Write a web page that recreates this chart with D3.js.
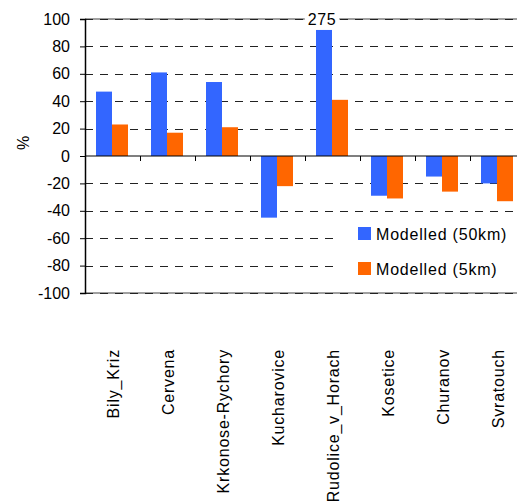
<!DOCTYPE html>
<html>
<head>
<meta charset="utf-8">
<script src="https://cdn.jsdelivr.net/npm/d3@7/dist/d3.min.js"></script>
<style>
  html, body { margin: 0; padding: 0; background: #fff; }
  svg { display: block; font-family: Arial, "Liberation Sans", sans-serif; }
</style>
</head>
<body>
<svg id="chart" width="517" height="502"></svg>
<script>
// Stations along the x axis
const stations = ["Bily_Kriz", "Cervena", "Krkonose-Rychory", "Kucharovice",
                  "Rudolice_v_Horach", "Kosetice", "Churanov", "Svratouch"];
// Series names
const seriesNames = ["Modelled (50km)", "Modelled (5km)"];
// Relative difference (%) per station
const modelled50km = [47, 61, 54, -45, 275, -29, -15, -20];
const modelled5km  = [23, 17, 21, -22, 41, -31, -26, -33];
// Y axis ticks
const yTicks = [-100, -80, -60, -40, -20, 0, 20, 40, 60, 80, 100];

const colors = ["#3366FF", "#FF6600"];
// Off-scale bars are cut short below the top of the axis and labelled with their value
const breakValue = 92;

const svg = d3.select("#chart");
const plotLeft = 85, plotTop = 19, plotBottom = 293, band = 55;

const x = d3.scaleBand().domain(stations).range([plotLeft, plotLeft + band * stations.length]);
const xs = d3.scaleBand().domain(seriesNames).range([0, 32]);
const barOffset = (band - 32) / 2 - 0.5;
const y = d3.scaleLinear().domain([-100, 100]).range([plotBottom, plotTop]);

// Plot area border (top / bottom)
svg.append("line").attr("x1", plotLeft).attr("x2", 517).attr("y1", y(100)).attr("y2", y(100))
  .attr("stroke", "#808080").attr("stroke-width", 1.5);
svg.append("line").attr("x1", plotLeft).attr("x2", 517).attr("y1", y(-100)).attr("y2", y(-100))
  .attr("stroke", "#808080").attr("stroke-width", 1.5);

// Dashed gridlines
svg.append("g").selectAll("line")
  .data(yTicks.filter(d => d !== 0))
  .join("line")
  .attr("x1", plotLeft).attr("x2", 517)
  .attr("y1", d => Math.round(y(d)) + 0.5).attr("y2", d => Math.round(y(d)) + 0.5)
  .attr("stroke", "#222").attr("stroke-width", 1)
  .attr("stroke-dasharray", "8,7");

// Bars
const series = [modelled50km, modelled5km];
series.forEach((vals, si) => {
  svg.append("g").selectAll("rect")
    .data(stations.map((s, i) => ({ s, v: vals[i] })))
    .join("rect")
    .attr("x", d => x(d.s) + barOffset + xs(seriesNames[si]))
    .attr("width", xs.bandwidth())
    .attr("y", d => y(Math.max(0, Math.min(d.v, breakValue))))
    .attr("height", d => Math.abs(y(Math.min(d.v, breakValue)) - y(0)))
    .attr("fill", colors[si]);
});

// Value label for off-scale bar
stations.forEach((s, i) => {
  const v = modelled50km[i];
  if (v > 100) {
    const cx = x(s) + barOffset + xs(seriesNames[0]) + xs.bandwidth() / 2 - 2;
    const g = svg.append("g");
    const t = g.append("text").attr("x", cx).attr("y", y(100) + 6)
      .attr("text-anchor", "middle").attr("font-size", 16).attr("fill", "#000")
      .attr("letter-spacing", "0.6px")
      .text(v);
    const bb = t.node().getBBox();
    g.insert("rect", "text").attr("x", bb.x - 3).attr("y", y(100) - 3)
      .attr("width", bb.width + 6).attr("height", 6).attr("fill", "#fff");
  }
});

// Zero line with category ticks
svg.append("line").attr("x1", plotLeft).attr("x2", 517).attr("y1", y(0)).attr("y2", y(0))
  .attr("stroke", "#000").attr("stroke-width", 1.2);
svg.append("g").selectAll("line")
  .data(d3.range(1, stations.length + 1))
  .join("line")
  .attr("x1", i => plotLeft + band * i + 0.5).attr("x2", i => plotLeft + band * i + 0.5)
  .attr("y1", y(0)).attr("y2", y(0) + 5)
  .attr("stroke", "#000");

// Y axis
const yAxis = d3.axisLeft(y).tickValues(yTicks).tickSize(5).tickPadding(10)
  .tickFormat(d => String(d));
const ya = svg.append("g").attr("transform", `translate(${plotLeft},0)`).call(yAxis);
ya.select(".domain").attr("stroke", "#000").attr("stroke-width", 1.5);
ya.selectAll(".tick line").attr("stroke", "#000");
ya.selectAll(".tick text").attr("font-size", 16).attr("fill", "#000")
  .attr("font-family", "Arial, 'Liberation Sans', sans-serif");

// Y axis title
svg.append("text").attr("transform", "translate(29,143) rotate(-90)")
  .attr("text-anchor", "middle").attr("font-size", 16).text("%");

// Category labels
svg.append("g").selectAll("text")
  .data(stations)
  .join("text")
  .attr("transform", d => `translate(${x(d) + band / 2 + 1},349) rotate(-90)`)
  .attr("dy", "0.35em")
  .attr("letter-spacing", "0.8px")
  .attr("text-anchor", "end").attr("font-size", 16).text(d => d);

// Legend
const lg = svg.append("g");
lg.append("rect").attr("x", 338).attr("y", 218).attr("width", 176).attr("height", 66).attr("fill", "#fff");
seriesNames.forEach((n, i) => {
  lg.append("rect").attr("x", 358).attr("y", 227 + i * 35).attr("width", 13).attr("height", 13)
    .attr("fill", colors[i]);
  lg.append("text").attr("x", 376).attr("y", 240 + i * 35).attr("font-size", 16)
    .attr("letter-spacing", "0.8px").text(n);
});
</script>
</body>
</html>
